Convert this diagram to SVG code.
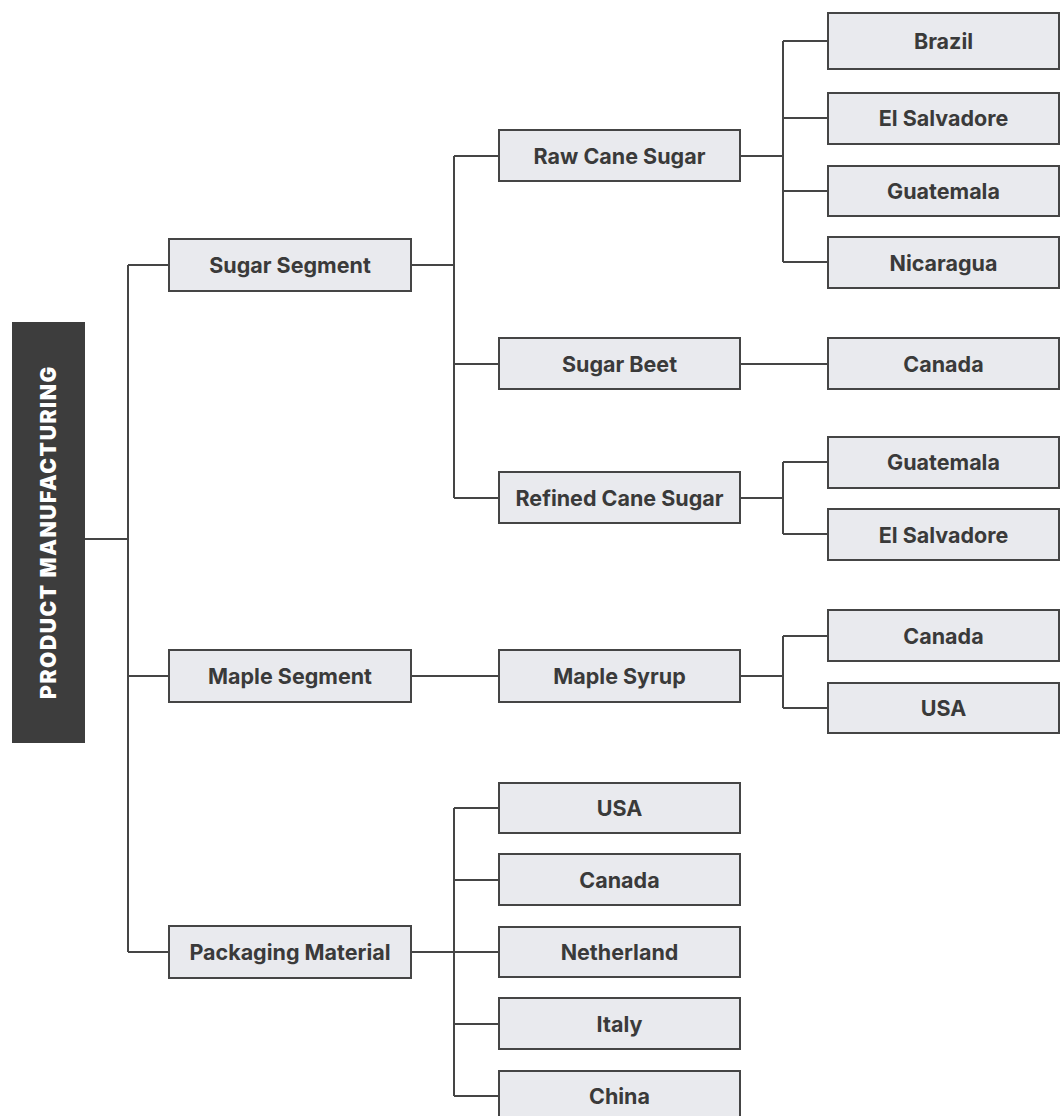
<svg xmlns="http://www.w3.org/2000/svg" width="1060" height="1116" viewBox="0 0 1060 1116">
<style>
.box{fill:#e9eaee;stroke:#454545;stroke-width:2}
.lbl{font-family:Inter,Roboto,"Liberation Sans",sans-serif;font-weight:700;font-size:21.5px;fill:#3a3a3a;text-anchor:middle;dominant-baseline:central}
.ttl{font-family:Inter,"Liberation Sans",sans-serif;font-weight:900;font-size:21px;fill:#ffffff;text-anchor:middle;dominant-baseline:central;letter-spacing:1.6px}
.con{fill:none;stroke:#454545;stroke-width:2}
</style>
<rect width="1060" height="1116" fill="#ffffff"/>
<g id="connectors" class="con">
<path d="M85 539H128M128 265V952M128 265H169M128 676H169M128 952H169"/>
<path d="M411 265H454M454 156V498M454 156H499M454 364H499M454 498H499"/>
<path d="M740 156H783M783 41V262M783 41H828M783 118H828M783 191H828M783 262H828"/>
<path d="M740 364H828"/>
<path d="M740 498H783M783 462V534M783 462H828M783 534H828"/>
<path d="M411 676H499"/>
<path d="M740 676H783M783 636V708M783 636H828M783 708H828"/>
<path d="M411 952H454M454 808V1096M454 808H499M454 880H499M454 952H499M454 1024H499M454 1096H499"/>
</g>
<g id="root"><rect x="12" y="322" width="73" height="421" fill="#3d3d3d"/><text class="ttl" transform="translate(48.5 532) rotate(-90)">PRODUCT MANUFACTURING</text></g>
<g id="sugar-segment"><rect class="box" x="169" y="239" width="242" height="52"/><text class="lbl" x="290" y="265">Sugar Segment</text></g>
<g id="maple-segment"><rect class="box" x="169" y="650" width="242" height="52"/><text class="lbl" x="290" y="676">Maple Segment</text></g>
<g id="packaging-material"><rect class="box" x="169" y="926" width="242" height="52"/><text class="lbl" x="290" y="952">Packaging Material</text></g>
<g id="raw-cane-sugar"><rect class="box" x="499" y="130" width="241" height="51"/><text class="lbl" x="619.5" y="156">Raw Cane Sugar</text></g>
<g id="sugar-beet"><rect class="box" x="499" y="338" width="241" height="51"/><text class="lbl" x="619.5" y="364">Sugar Beet</text></g>
<g id="refined-cane-sugar"><rect class="box" x="499" y="472" width="241" height="51"/><text class="lbl" x="619.5" y="498">Refined Cane Sugar</text></g>
<g id="maple-syrup"><rect class="box" x="499" y="650" width="241" height="52"/><text class="lbl" x="619.5" y="676">Maple Syrup</text></g>
<g id="pk-usa"><rect class="box" x="499" y="783" width="241" height="50"/><text class="lbl" x="619.5" y="808">USA</text></g>
<g id="pk-canada"><rect class="box" x="499" y="854" width="241" height="51"/><text class="lbl" x="619.5" y="880">Canada</text></g>
<g id="pk-netherland"><rect class="box" x="499" y="927" width="241" height="50"/><text class="lbl" x="619.5" y="952">Netherland</text></g>
<g id="pk-italy"><rect class="box" x="499" y="998" width="241" height="51"/><text class="lbl" x="619.5" y="1024">Italy</text></g>
<g id="pk-china"><rect class="box" x="499" y="1071" width="241" height="60"/><text class="lbl" x="619.5" y="1096">China</text></g>
<g id="rc-brazil"><rect class="box" x="828" y="13" width="231" height="56"/><text class="lbl" x="943.5" y="41">Brazil</text></g>
<g id="rc-el-salvadore"><rect class="box" x="828" y="93" width="231" height="51"/><text class="lbl" x="943.5" y="118">El Salvadore</text></g>
<g id="rc-guatemala"><rect class="box" x="828" y="166" width="231" height="50"/><text class="lbl" x="943.5" y="191">Guatemala</text></g>
<g id="rc-nicaragua"><rect class="box" x="828" y="237" width="231" height="51"/><text class="lbl" x="943.5" y="263">Nicaragua</text></g>
<g id="sb-canada"><rect class="box" x="828" y="338" width="231" height="51"/><text class="lbl" x="943.5" y="364">Canada</text></g>
<g id="rf-guatemala"><rect class="box" x="828" y="437" width="231" height="51"/><text class="lbl" x="943.5" y="462">Guatemala</text></g>
<g id="rf-el-salvadore"><rect class="box" x="828" y="509" width="231" height="51"/><text class="lbl" x="943.5" y="535">El Salvadore</text></g>
<g id="ms-canada"><rect class="box" x="828" y="610" width="231" height="51"/><text class="lbl" x="943.5" y="636">Canada</text></g>
<g id="ms-usa"><rect class="box" x="828" y="683" width="231" height="50"/><text class="lbl" x="943.5" y="708">USA</text></g>
</svg>
